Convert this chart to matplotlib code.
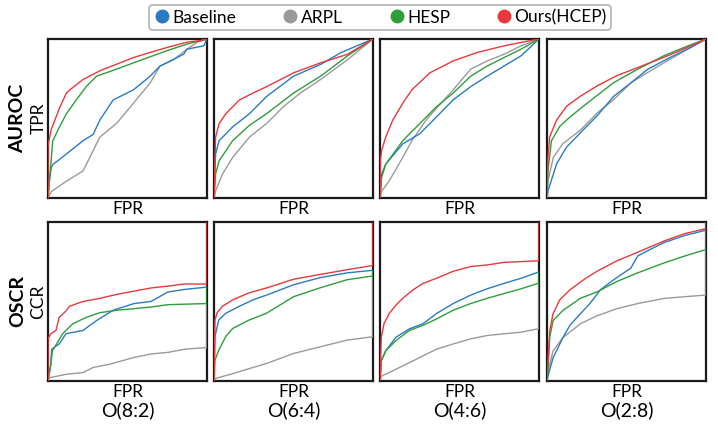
import matplotlib
matplotlib.use("Agg")
import matplotlib.pyplot as plt
from matplotlib.lines import Line2D

plt.rcParams['font.family'] = ['Lato', 'DejaVu Sans']

methods = ["Baseline", "ARPL", "HESP", "Ours(HCEP)"]
colors = {"Baseline": "#2b7bc4", "ARPL": "#9a9a9a", "HESP": "#2f9e3a", "Ours(HCEP)": "#e8393c"}
settings = ["O(8:2)", "O(6:4)", "O(4:6)", "O(2:8)"]

# ---------------- AUROC (ROC curves: FPR, TPR) ----------------
roc_82_base_x = [0, 0.01, 0.02, 0.03, 0.116, 0.22, 0.284, 0.326, 0.41, 0.537, 0.642, 0.705, 0.853, 0.874, 0.98, 1]
roc_82_base_y = [0, 0.12, 0.19, 0.21, 0.277, 0.36, 0.40, 0.49, 0.617, 0.68, 0.766, 0.83, 0.904, 0.936, 0.957, 1]
roc_82_arpl_x = [0, 0.02, 0.116, 0.22, 0.263, 0.326, 0.43, 0.537, 0.642, 0.705, 0.79, 0.874, 0.937, 1]
roc_82_arpl_y = [0, 0.04, 0.106, 0.17, 0.255, 0.383, 0.468, 0.596, 0.723, 0.83, 0.87, 0.936, 0.979, 1]
roc_82_hesp_x = [0, 0.01, 0.03, 0.074, 0.116, 0.18, 0.24, 0.305, 0.43, 0.537, 0.747, 0.874, 1]
roc_82_hesp_y = [0, 0.12, 0.36, 0.45, 0.53, 0.62, 0.70, 0.766, 0.81, 0.85, 0.926, 0.968, 1]
roc_82_ours_x = [0, 0, 0.02, 0.074, 0.116, 0.137, 0.22, 0.326, 0.537, 0.64, 0.75, 0.874, 0.96, 1]
roc_82_ours_y = [0, 0.33, 0.43, 0.57, 0.66, 0.68, 0.745, 0.80, 0.883, 0.915, 0.947, 0.98, 0.99, 1]

roc_64_base_x = [0, 0.01, 0.032, 0.117, 0.223, 0.33, 0.5, 0.67, 0.8, 1]
roc_64_base_y = [0, 0.277, 0.36, 0.447, 0.53, 0.638, 0.766, 0.84, 0.915, 1]
roc_64_arpl_x = [0, 0.01, 0.053, 0.117, 0.223, 0.33, 0.436, 0.543, 0.67, 0.84, 1]
roc_64_arpl_y = [0, 0.043, 0.15, 0.255, 0.383, 0.468, 0.574, 0.66, 0.745, 0.87, 1]
roc_64_hesp_x = [0, 0.01, 0.032, 0.117, 0.223, 0.33, 0.5, 0.67, 0.84, 1]
roc_64_hesp_y = [0, 0.15, 0.234, 0.36, 0.457, 0.53, 0.66, 0.766, 0.894, 1]
roc_64_ours_x = [0, 0.01, 0.032, 0.074, 0.16, 0.245, 0.33, 0.5, 0.67, 0.84, 1]
roc_64_ours_y = [0, 0.383, 0.468, 0.53, 0.617, 0.66, 0.70, 0.787, 0.85, 0.904, 1]

roc_46_base_x = [0, 0.01, 0.036, 0.143, 0.25, 0.355, 0.46, 0.57, 0.674, 0.78, 0.887, 1]
roc_46_base_y = [0, 0.15, 0.213, 0.34, 0.404, 0.51, 0.617, 0.70, 0.766, 0.83, 0.894, 1]
roc_46_arpl_x = [0, 0.01, 0.057, 0.143, 0.2, 0.29, 0.355, 0.46, 0.57, 0.674, 0.78, 0.887, 1]
roc_46_arpl_y = [0, 0.043, 0.106, 0.255, 0.36, 0.49, 0.564, 0.68, 0.81, 0.862, 0.904, 0.957, 1]
roc_46_hesp_x = [0, 0.01, 0.036, 0.143, 0.25, 0.355, 0.46, 0.57, 0.674, 0.78, 0.887, 1]
roc_46_hesp_y = [0, 0.128, 0.213, 0.36, 0.468, 0.574, 0.66, 0.766, 0.83, 0.883, 0.936, 1]
roc_46_ours_x = [0, 0.003, 0.01, 0.036, 0.08, 0.143, 0.2, 0.313, 0.46, 0.61, 0.78, 0.91, 1]
roc_46_ours_y = [0, 0.24, 0.298, 0.383, 0.49, 0.596, 0.68, 0.787, 0.862, 0.915, 0.957, 0.983, 1]

roc_28_base_x = [0, 0.006, 0.06, 0.123, 0.21, 0.315, 0.42, 0.53, 0.634, 0.78, 0.91, 1]
roc_28_base_y = [0, 0.043, 0.214, 0.32, 0.41, 0.517, 0.64, 0.726, 0.81, 0.887, 0.95, 1]
roc_28_arpl_x = [0, 0.006, 0.04, 0.1, 0.21, 0.315, 0.42, 0.53, 0.634, 0.78, 0.91, 1]
roc_28_arpl_y = [0, 0.107, 0.256, 0.342, 0.427, 0.534, 0.62, 0.726, 0.79, 0.876, 0.95, 1]
roc_28_hesp_x = [0, 0.006, 0.028, 0.08, 0.145, 0.27, 0.42, 0.57, 0.74, 0.87, 1]
roc_28_hesp_y = [0, 0.17, 0.36, 0.45, 0.51, 0.61, 0.726, 0.81, 0.897, 0.95, 1]
roc_28_ours_x = [0, 0.006, 0.017, 0.06, 0.123, 0.21, 0.315, 0.44, 0.57, 0.74, 0.89, 1]
roc_28_ours_y = [0, 0.256, 0.385, 0.49, 0.577, 0.64, 0.705, 0.77, 0.82, 0.887, 0.95, 1]

# ---------------- OSCR (FPR, CCR) ----------------
oscr_82_base_x = [0, 0.017, 0.023, 0.07, 0.113, 0.22, 0.305, 0.41, 0.54, 0.647, 0.755, 0.86, 0.993, 1]
oscr_82_base_y = [0, 0.10, 0.20, 0.233, 0.297, 0.318, 0.38, 0.445, 0.487, 0.50, 0.56, 0.576, 0.59, 0.59]
oscr_82_arpl_x = [0, 0.006, 0.113, 0.22, 0.284, 0.39, 0.54, 0.647, 0.755, 0.86, 0.993, 1, 1]
oscr_82_arpl_y = [0, 0.02, 0.042, 0.053, 0.085, 0.106, 0.148, 0.17, 0.18, 0.20, 0.21, 0.21, 0.487]
oscr_82_hesp_x = [0, 0.017, 0.028, 0.092, 0.156, 0.24, 0.327, 0.434, 0.54, 0.647, 0.755, 0.993, 1, 1]
oscr_82_hesp_y = [0, 0.10, 0.19, 0.297, 0.36, 0.40, 0.43, 0.445, 0.455, 0.465, 0.48, 0.487, 0.487, 0.59]
oscr_82_ours_x = [0, 0, 0.017, 0.05, 0.07, 0.113, 0.135, 0.22, 0.327, 0.434, 0.54, 0.647, 0.755, 0.86, 0.995, 1, 1]
oscr_82_ours_y = [0, 0.265, 0.297, 0.318, 0.40, 0.44, 0.47, 0.50, 0.52, 0.545, 0.565, 0.585, 0.597, 0.61, 0.61, 0.61, 1]

oscr_64_base_x = [0, 0.006, 0.03, 0.074, 0.16, 0.244, 0.33, 0.5, 0.667, 0.837, 0.995, 1]
oscr_64_base_y = [0, 0.28, 0.384, 0.426, 0.47, 0.51, 0.54, 0.605, 0.65, 0.68, 0.696, 0.696]
oscr_64_arpl_x = [0, 0.006, 0.117, 0.222, 0.33, 0.5, 0.667, 0.837, 0.995, 1, 1]
oscr_64_arpl_y = [0, 0.015, 0.046, 0.078, 0.11, 0.173, 0.215, 0.257, 0.278, 0.278, 0.66]
oscr_64_hesp_x = [0, 0.006, 0.03, 0.074, 0.117, 0.222, 0.33, 0.5, 0.667, 0.837, 0.995, 1, 1]
oscr_64_hesp_y = [0, 0.13, 0.194, 0.28, 0.33, 0.384, 0.426, 0.53, 0.586, 0.637, 0.66, 0.66, 0.696]
oscr_64_ours_x = [0, 0.006, 0.02, 0.053, 0.117, 0.222, 0.33, 0.5, 0.667, 0.837, 0.995, 1, 1]
oscr_64_ours_y = [0, 0.384, 0.43, 0.47, 0.51, 0.555, 0.585, 0.64, 0.67, 0.70, 0.726, 0.726, 1]

oscr_46_base_x = [0, 0.008, 0.036, 0.1, 0.185, 0.27, 0.355, 0.46, 0.57, 0.674, 0.78, 0.887, 0.994, 1]
oscr_46_base_y = [0, 0.127, 0.19, 0.275, 0.328, 0.36, 0.424, 0.487, 0.54, 0.58, 0.614, 0.646, 0.684, 0.684]
oscr_46_arpl_x = [0, 0.008, 0.057, 0.143, 0.25, 0.355, 0.46, 0.57, 0.674, 0.78, 0.887, 0.994, 1, 1]
oscr_46_arpl_y = [0, 0.03, 0.053, 0.095, 0.148, 0.20, 0.233, 0.265, 0.286, 0.297, 0.307, 0.328, 0.328, 0.614]
oscr_46_hesp_x = [0, 0.008, 0.036, 0.1, 0.185, 0.27, 0.355, 0.46, 0.57, 0.674, 0.78, 0.887, 0.994, 1, 1]
oscr_46_hesp_y = [0, 0.127, 0.19, 0.254, 0.318, 0.35, 0.39, 0.445, 0.487, 0.52, 0.55, 0.58, 0.614, 0.614, 0.684]
oscr_46_ours_x = [0, 0.008, 0.025, 0.057, 0.1, 0.143, 0.206, 0.27, 0.355, 0.46, 0.57, 0.674, 0.78, 0.994, 1, 1]
oscr_46_ours_y = [0, 0.275, 0.36, 0.424, 0.477, 0.52, 0.572, 0.614, 0.646, 0.69, 0.72, 0.73, 0.746, 0.756, 0.756, 1]

oscr_28_base_x = [0, 0.006, 0.038, 0.1, 0.144, 0.21, 0.27, 0.335, 0.42, 0.527, 0.57, 0.654, 0.74, 0.866, 0.994, 1]
oscr_28_base_y = [0, 0.03, 0.145, 0.273, 0.35, 0.423, 0.487, 0.573, 0.637, 0.71, 0.786, 0.83, 0.872, 0.915, 0.947, 0.947]
oscr_28_arpl_x = [0, 0.006, 0.038, 0.1, 0.21, 0.314, 0.44, 0.57, 0.74, 0.866, 0.994, 1, 1]
oscr_28_arpl_y = [0, 0.06, 0.188, 0.273, 0.36, 0.41, 0.455, 0.487, 0.52, 0.53, 0.54, 0.54, 0.825]
oscr_28_hesp_x = [0, 0.006, 0.017, 0.038, 0.1, 0.21, 0.314, 0.44, 0.57, 0.74, 0.866, 0.994, 1, 1]
oscr_28_hesp_y = [0, 0.06, 0.273, 0.38, 0.444, 0.52, 0.56, 0.626, 0.68, 0.744, 0.786, 0.825, 0.825, 0.947]
oscr_28_ours_x = [0, 0.006, 0.017, 0.038, 0.08, 0.144, 0.23, 0.314, 0.44, 0.57, 0.74, 0.866, 0.994, 1, 1]
oscr_28_ours_y = [0, 0.124, 0.316, 0.423, 0.51, 0.573, 0.637, 0.69, 0.756, 0.81, 0.882, 0.927, 0.957, 0.957, 1]

roc_curves = [
    {"Baseline": (roc_82_base_x, roc_82_base_y), "ARPL": (roc_82_arpl_x, roc_82_arpl_y),
     "HESP": (roc_82_hesp_x, roc_82_hesp_y), "Ours(HCEP)": (roc_82_ours_x, roc_82_ours_y)},
    {"Baseline": (roc_64_base_x, roc_64_base_y), "ARPL": (roc_64_arpl_x, roc_64_arpl_y),
     "HESP": (roc_64_hesp_x, roc_64_hesp_y), "Ours(HCEP)": (roc_64_ours_x, roc_64_ours_y)},
    {"Baseline": (roc_46_base_x, roc_46_base_y), "ARPL": (roc_46_arpl_x, roc_46_arpl_y),
     "HESP": (roc_46_hesp_x, roc_46_hesp_y), "Ours(HCEP)": (roc_46_ours_x, roc_46_ours_y)},
    {"Baseline": (roc_28_base_x, roc_28_base_y), "ARPL": (roc_28_arpl_x, roc_28_arpl_y),
     "HESP": (roc_28_hesp_x, roc_28_hesp_y), "Ours(HCEP)": (roc_28_ours_x, roc_28_ours_y)},
]
oscr_curves = [
    {"Baseline": (oscr_82_base_x, oscr_82_base_y), "ARPL": (oscr_82_arpl_x, oscr_82_arpl_y),
     "HESP": (oscr_82_hesp_x, oscr_82_hesp_y), "Ours(HCEP)": (oscr_82_ours_x, oscr_82_ours_y)},
    {"Baseline": (oscr_64_base_x, oscr_64_base_y), "ARPL": (oscr_64_arpl_x, oscr_64_arpl_y),
     "HESP": (oscr_64_hesp_x, oscr_64_hesp_y), "Ours(HCEP)": (oscr_64_ours_x, oscr_64_ours_y)},
    {"Baseline": (oscr_46_base_x, oscr_46_base_y), "ARPL": (oscr_46_arpl_x, oscr_46_arpl_y),
     "HESP": (oscr_46_hesp_x, oscr_46_hesp_y), "Ours(HCEP)": (oscr_46_ours_x, oscr_46_ours_y)},
    {"Baseline": (oscr_28_base_x, oscr_28_base_y), "ARPL": (oscr_28_arpl_x, oscr_28_arpl_y),
     "HESP": (oscr_28_hesp_x, oscr_28_hesp_y), "Ours(HCEP)": (oscr_28_ours_x, oscr_28_ours_y)},
]

fig = plt.figure(figsize=(7.18, 4.24), dpi=100)
lefts = [48, 214, 380, 547]
W, H = 718.0, 424.0
pw, ph = 159, 159
row_tops = [39, 222]

draw_order = ["ARPL", "Baseline", "HESP", "Ours(HCEP)"]
for r, curves_row in enumerate([roc_curves, oscr_curves]):
    for c in range(4):
        ax = fig.add_axes([lefts[c] / W, 1 - (row_tops[r] + ph) / H, pw / W, ph / H])
        for m in draw_order:
            x, y = curves_row[c][m]
            ax.plot(x, y, color=colors[m], lw=1.0, solid_joinstyle='miter', zorder=3)
        ax.set_xlim(0, 1)
        ax.set_ylim(0, 1)
        ax.set_xticks([])
        ax.set_yticks([])
        for s in ax.spines.values():
            s.set_linewidth(1.6)
            s.set_color('#1a1a1a')
            s.set_zorder(2.5)
        ax.set_xlabel("FPR", fontsize=12.5, labelpad=2)
        if c == 0:
            ax.set_ylabel("TPR" if r == 0 else "CCR", fontsize=12.5, labelpad=1)
        if r == 1:
            fig.text((lefts[c] + pw / 2) / W, 1 - 410 / H, settings[c], ha='center', va='center', fontsize=14)

fig.text(18 / W, 1 - 118 / H, "AUROC", rotation=90, ha='center', va='center', fontsize=14, fontweight='bold')
fig.text(18 / W, 1 - 301 / H, "OSCR", rotation=90, ha='center', va='center', fontsize=14, fontweight='bold')

handles = [Line2D([], [], marker='o', ls='none', color=colors[m], markersize=9) for m in methods]
leg = fig.legend(handles, methods, loc='center', bbox_to_anchor=(380 / W, 1 - 17.5 / H), ncol=4,
                 fontsize=12.5, frameon=True, fancybox=True, handletextpad=0.1, columnspacing=2.6,
                 borderpad=0.25, handlelength=1.0)
leg.get_frame().set_edgecolor('#a0a0a0')
leg.get_frame().set_linewidth(1.2)

fig.savefig("out.png", dpi=100)
